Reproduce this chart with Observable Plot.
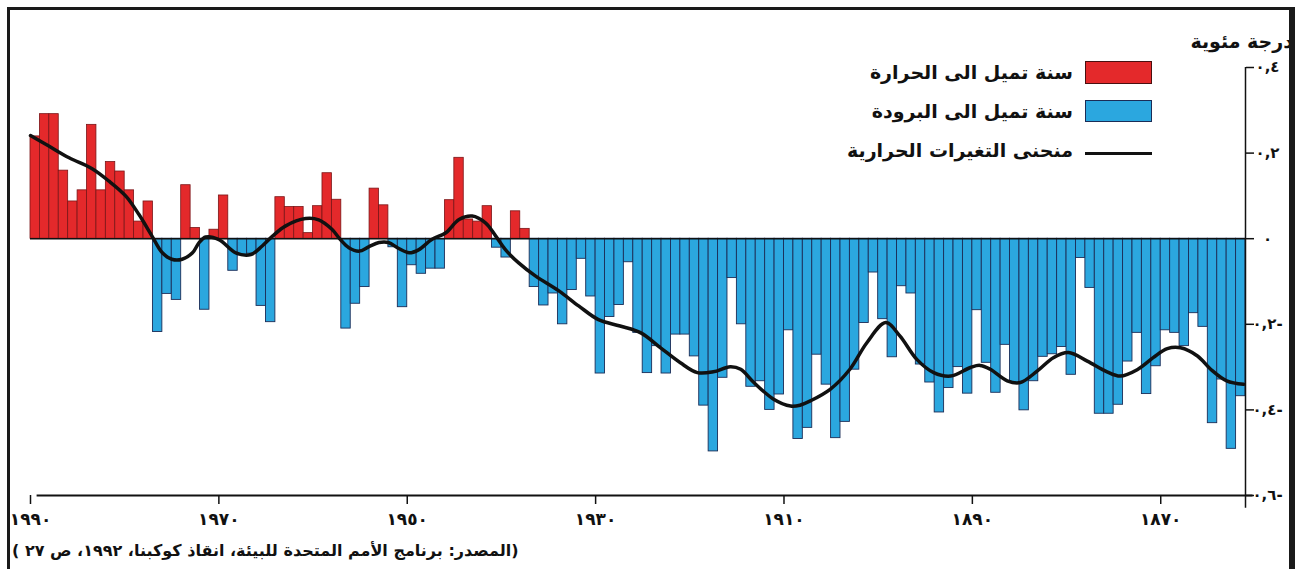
<!DOCTYPE html>
<html>
<head>
<meta charset="utf-8">
<script src="https://cdn.jsdelivr.net/npm/d3@7"></script>
<script src="https://cdn.jsdelivr.net/npm/@observablehq/plot@0.6"></script>
<style>
  body { margin: 0; background: #fff; }
  #wrap { position: relative; width: 1299px; height: 569px; overflow: hidden; background: #fff;
          font-family: "DejaVu Sans", sans-serif; font-weight: bold; color: #111; }
  #wrap svg { position: absolute; left: 0; top: 0; }
  #frame { position: absolute; left: 7px; top: 7px; width: 1279px; height: 640px;
           border-left: 3px solid #1a1a1a; border-top: 3px solid #1a1a1a; border-right: 6px solid #1a1a1a;
           z-index: 5; pointer-events: none; }
  .txt { position: absolute; direction: rtl; text-align: right; white-space: nowrap; }
  .sw { position: absolute; box-sizing: border-box; }
</style>
</head>
<body>
<div id="wrap">
  <div id="frame"></div>
</div>
<script>
// ---- data ----
const years = d3.range(1990, 1861, -1); // 1990 ... 1862 (left to right)
const values = [
  0.239, 0.291, 0.291, 0.159, 0.087, 0.113, 0.266, 0.113, 0.179, 0.157,
  0.113, 0.040, 0.087, -0.218, -0.129, -0.143, 0.125, 0.025, -0.166, 0.021,
  0.101, -0.075, -0.039, -0.035, -0.157, -0.195, 0.097, 0.074, 0.074, 0.013,
  0.076, 0.153, 0.091, -0.210, -0.152, -0.113, 0.117, 0.078, -0.020, -0.160,
  -0.062, -0.082, -0.070, -0.070, 0.090, 0.189, 0.045, 0.040, 0.076, -0.021,
  -0.044, 0.064, 0.023, -0.113, -0.156, -0.128, -0.200, -0.120, -0.047, -0.135,
  -0.315, -0.183, -0.155, -0.055, -0.220, -0.314, -0.251, -0.315, -0.224, -0.224,
  -0.275, -0.390, -0.497, -0.325, -0.092, -0.200, -0.346, -0.333, -0.400, -0.364,
  -0.214, -0.468, -0.442, -0.271, -0.341, -0.466, -0.428, -0.306, -0.197, -0.079,
  -0.188, -0.277, -0.111, -0.128, -0.294, -0.336, -0.406, -0.349, -0.300, -0.362,
  -0.167, -0.290, -0.360, -0.248, -0.337, -0.401, -0.333, -0.276, -0.270, -0.253,
  -0.318, -0.045, -0.115, -0.409, -0.409, -0.388, -0.287, -0.220, -0.363, -0.298,
  -0.214, -0.220, -0.251, -0.174, -0.206, -0.431, -0.329, -0.491, -0.368
];
const curveYears = [
  1990, 1988.1, 1985.9, 1983.5, 1981.7, 1979.9, 1978.5, 1977.1, 1976.0, 1975.0,
  1973.9, 1972.8, 1972.1, 1971.4, 1970.0, 1968.2, 1966.6, 1965.4, 1964.3, 1962.9,
  1960.8, 1959.4, 1958.0, 1957.1, 1956.2, 1955.1, 1954.1, 1953.0, 1952.0, 1950.9,
  1949.8, 1948.8, 1947.4, 1945.9, 1944.5, 1943.1, 1941.7, 1940.6, 1939.6, 1938.2,
  1936.4, 1933.9, 1931.8, 1929.7, 1927.4, 1925.2, 1923.1, 1921.0, 1919.2, 1917.5,
  1915.7, 1914.6, 1913.2, 1911.1, 1909.3, 1908.3, 1907.2, 1905.1, 1903.0, 1901.2,
  1899.2, 1897.7, 1895.9, 1894.1, 1892.3, 1890.2, 1889.2, 1888.1, 1886.3, 1884.9,
  1883.1, 1881.4, 1879.8, 1877.8, 1875.7, 1874.3, 1872.5, 1870.8, 1869.3, 1867.9,
  1866.1, 1864.7, 1863.0, 1861.2
];
const curveValues = [
  0.241, 0.217, 0.189, 0.164, 0.135, 0.100, 0.057, 0.006, -0.033, -0.048,
  -0.048, -0.033, -0.009, 0.004, -0.002, -0.033, -0.037, -0.017, 0.006, 0.030,
  0.047, 0.044, 0.022, -0.002, -0.021, -0.029, -0.019, -0.009, -0.009, -0.023,
  -0.033, -0.026, -0.002, 0.014, 0.045, 0.053, 0.037, 0.006, -0.025, -0.056,
  -0.087, -0.122, -0.157, -0.189, -0.204, -0.220, -0.255, -0.290, -0.313, -0.311,
  -0.299, -0.305, -0.336, -0.375, -0.391, -0.389, -0.379, -0.352, -0.305, -0.243,
  -0.196, -0.227, -0.282, -0.313, -0.321, -0.301, -0.296, -0.305, -0.332, -0.336,
  -0.309, -0.278, -0.266, -0.286, -0.311, -0.321, -0.306, -0.278, -0.257, -0.255,
  -0.274, -0.305, -0.332, -0.340
];
const xTicks = [1990, 1970, 1950, 1930, 1910, 1890, 1870];
const yTicks = [0.4, 0.2, 0, -0.2, -0.4, -0.6];
const legendWarm = "سنة تميل الى الحرارة";
const legendCold = "سنة تميل الى البرودة";
const legendCurve = "منحنى التغيرات الحرارية";
const yTitle = "درجة مئوية";
const source = "(المصدر: برنامج الأمم المتحدة للبيئة، انقاذ كوكبنا، ١٩٩٢، ص ٢٧ )";

// ---- helpers ----
const toAr = s => String(s).replace(/[0-9]/g, d => "٠١٢٣٤٥٦٧٨٩"[+d]);
const yFmt = v => v === 0 ? "٠" : toAr(Math.abs(v).toFixed(1)).replace(".", ",") + (v < 0 ? "-" : "");

const data = years.map((y, i) => ({year: y, value: values[i]}));
const curve = curveYears.map((y, i) => ({year: y, value: curveValues[i]}));

const RED = "#e4292b", BLUE = "#2ba7df";

const plot = Plot.plot({
  width: 1299, height: 530,
  marginLeft: 30, marginRight: 54, marginTop: 67, marginBottom: 35,
  x: {domain: [1990, 1861]},
  y: {domain: [-0.6, 0.4]},
  style: {fontFamily: '"DejaVu Sans", sans-serif', fontWeight: "bold", background: "transparent", color: "#111", overflow: "visible"},
  marks: [
    Plot.rect(data.filter(d => d.value >= 0), {x1: "year", x2: d => d.year - 1, y1: 0, y2: "value", fill: RED, stroke: "#7a1517", strokeWidth: 0.8}),
    Plot.rect(data.filter(d => d.value < 0), {x1: "year", x2: d => d.year - 1, y1: 0, y2: "value", fill: BLUE, stroke: "#1b2d57", strokeWidth: 0.9}),
    Plot.ruleY([0], {x1: 1990, x2: 1861, stroke: "#111", strokeWidth: 1.5}),
    Plot.line(curve, {x: "year", y: "value", curve: "catmull-rom", stroke: "#111", strokeWidth: 3.5}),
    Plot.ruleY([-0.6], {x1: 1989.3, x2: 1860.2, stroke: "#111", strokeWidth: 2}),
    Plot.ruleX([1861], {y1: -0.63, y2: 0.4, stroke: "#111", strokeWidth: 1.5}),
    Plot.axisX({ticks: xTicks, tickFormat: d => toAr(d), tickSize: 9, tickPadding: 8, fontSize: 17, label: null, strokeWidth: 1.5}),
    Plot.axisY({anchor: "right", ticks: yTicks, tickFormat: yFmt, tickSize: 8, tickPadding: 14, textAnchor: "middle", fontSize: 15, label: null, strokeWidth: 1.5})
  ]
});
const wrap = document.getElementById("wrap");
wrap.insertBefore(plot, wrap.firstChild);

function addText(text, css) {
  const d = document.createElement("div");
  d.className = "txt";
  d.textContent = text;
  Object.assign(d.style, css);
  wrap.appendChild(d);
  return d;
}
function addSwatch(css) {
  const d = document.createElement("div");
  d.className = "sw";
  Object.assign(d.style, css);
  wrap.appendChild(d);
}
// legend
addText(legendWarm, {right: "226px", top: "59px", fontSize: "19px", lineHeight: "26px"});
addText(legendCold, {right: "226px", top: "98px", fontSize: "19px", lineHeight: "26px"});
addText(legendCurve, {right: "226px", top: "137px", fontSize: "19px", lineHeight: "26px"});
addSwatch({left: "1085px", top: "61px", width: "67px", height: "23px", background: RED, border: "1px solid #4a1010"});
addSwatch({left: "1085px", top: "100px", width: "67px", height: "22px", background: BLUE, border: "1px solid #1b2d57"});
addSwatch({left: "1085px", top: "152px", width: "67px", height: "3px", background: "#111"});
// y title (its right end runs under the frame, as in the original)
addText(yTitle, {right: "6px", top: "28px", fontSize: "19px", lineHeight: "26px"});
// source
addText(source, {left: "12px", top: "540px", fontSize: "16px", lineHeight: "22px"});
</script>
</body>
</html>
